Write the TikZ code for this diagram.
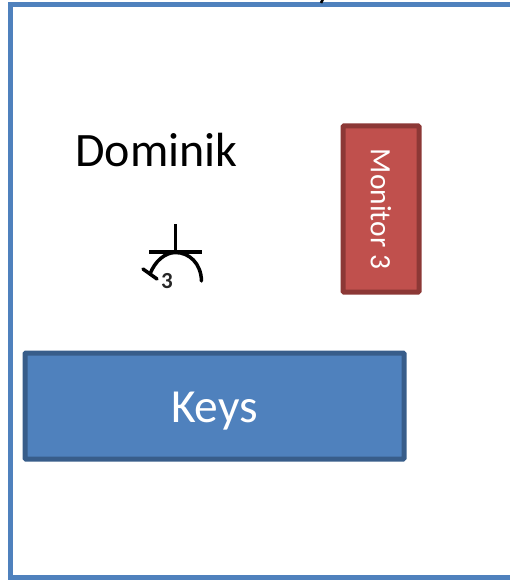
\documentclass[tikz,border=0pt]{standalone}
\usepackage{fontspec}
\setmainfont{Carlito}
\definecolor{framec}{HTML}{4F81BD}
\definecolor{keyline}{HTML}{385D8A}
\definecolor{monfill}{HTML}{C0504D}
\definecolor{monline}{HTML}{8C3836}
\tikzset{
  px/.style={x=1pt,y=-1pt},
  frameline/.style={draw=framec,line width=5pt},
  keybox/.style={draw=keyline,fill=framec,line width=5pt,rounded corners=1pt,minimum width=379pt,minimum height=106pt,inner sep=0pt},
  keytext/.style={text=white,font=\fontsize{47.5pt}{50pt}\selectfont,inner sep=0pt},
  monbox/.style={draw=monline,fill=monfill,line width=5pt,rounded corners=1pt,minimum width=76pt,minimum height=166pt,inner sep=0pt},
  montext/.style={text=white,rotate=-90,font=\fontsize{29.5pt}{32pt}\selectfont,inner sep=0pt},
  nametext/.style={text=black,font=\fontsize{48pt}{50pt}\selectfont,inner sep=0pt},
  sym/.style={draw=black,line width=3.5pt},
  symnum/.style={text=black!85,font=\fontsize{23pt}{24pt}\selectfont\bfseries,inner sep=0pt}
}
\begin{document}
\begin{tikzpicture}[px]
\useasboundingbox (0,0) rectangle (510,580);
\clip (0,0) rectangle (510,580);
\draw[frameline] (520,4.5) -- (10.5,4.5) -- (10.5,577.5) -- (520,577.5);
\draw[line width=2.5pt] (323,-1) -- (321,3);
\node[keybox] (keys) at (214.5,406) {};
\node[keytext] (keystxt) at (214.5,411) {Keys};
\node[monbox] (monitor) at (381,209) {};
\node[montext] (montxt) at (381,209) {Monitor 3};
\node[nametext] (dominik) at (156.5,149.5) {Dominik};
\coordinate (top) at (175.5,224);
\coordinate (mid) at (175.5,252);
\draw[sym] (top) -- (mid);
\draw[sym] (149,252) -- (202,252);
\draw[sym,line cap=round] (201.5,281) .. controls (201,263) and (189,252.5) .. (175.5,252.5) .. controls (165,252.5) and (155,261) .. (150,274);
\draw[sym,line cap=round] (143,269) -- (157,279);
\node[symnum] (three) at (167,281) {3};
\end{tikzpicture}
\end{document}
